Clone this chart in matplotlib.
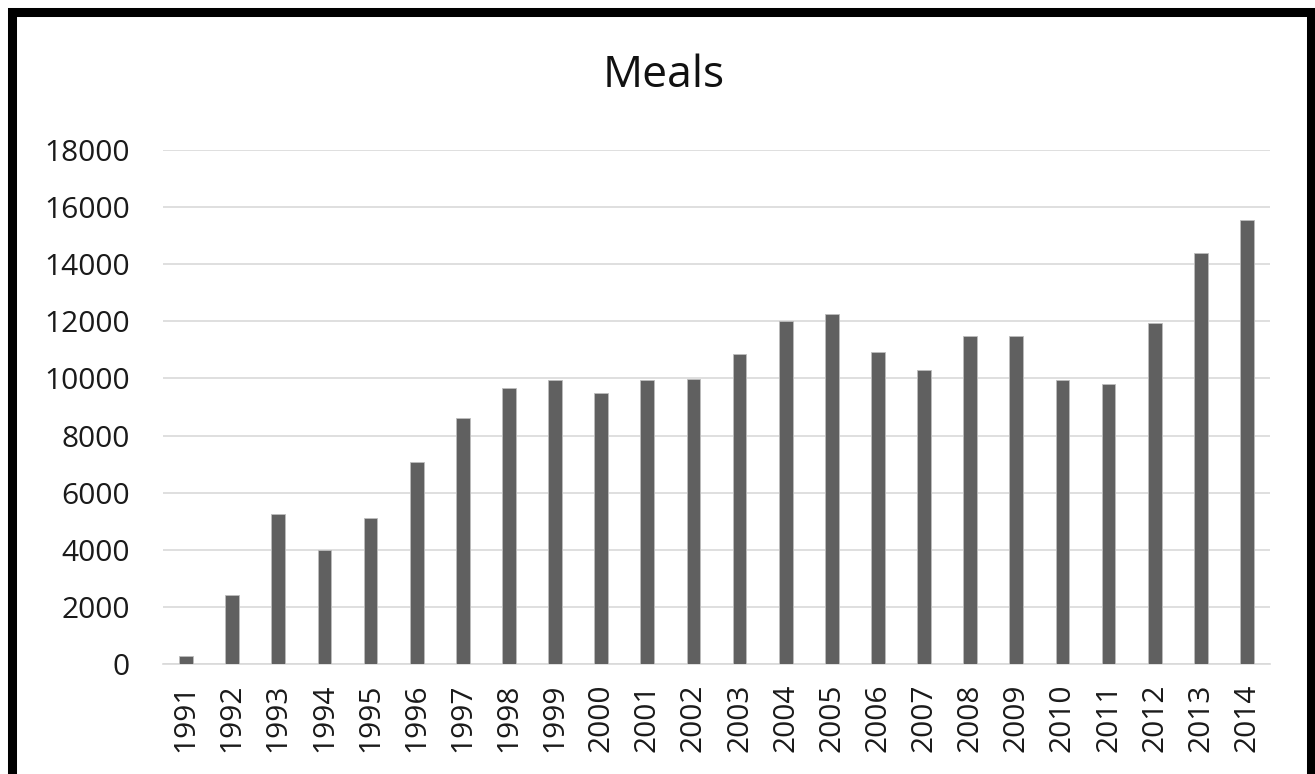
import matplotlib
matplotlib.use("Agg")
import matplotlib.pyplot as plt
from matplotlib.patches import Rectangle

years = [str(y) for y in range(1991, 2015)]
meals = [290, 2420, 5270, 4000, 5120, 7080, 8610, 9670, 9930, 9480,
         9930, 9990, 10870, 12000, 12260, 10930, 10300, 11500, 11500,
         9930, 9800, 11950, 14410, 15540]
yticks = list(range(0, 18001, 2000))
title = "Meals"

plt.rcParams['font.family'] = ['Open Sans', 'DejaVu Sans']

fig = plt.figure(figsize=(13.15, 7.74), dpi=100)
fig.patch.set_facecolor("white")
ax = fig.add_axes([163/1315, 110/774, (1270-163)/1315, (664-150)/774])

x = list(range(len(years)))
ax.bar(x, meals, width=0.3, color="#606060", edgecolor="#bdbdbd", linewidth=0.6, zorder=3)

ax.set_xlim(-0.5, len(years) - 0.5)
ax.set_ylim(0, 18000)
ax.set_yticks(yticks)
ax.set_yticklabels([str(v) for v in yticks], fontsize=21.5, color="#1a1a1a")
ax.set_xticks(x)
ax.set_xticklabels(years, rotation=90, fontsize=21.5, color="#1a1a1a")
ax.tick_params(axis='both', length=0)
ax.tick_params(axis='y', pad=24)
ax.tick_params(axis='x', pad=14)
ax.grid(axis='y', color="#d9d9d9", linewidth=1.2, zorder=0)
for s in ['top', 'right', 'left']:
    ax.spines[s].set_visible(False)
ax.spines['bottom'].set_color("#d9d9d9")
ax.spines['bottom'].set_linewidth(1.2)

fig.text(663.5/1315, 1 - 76/774, title, ha='center', va='center', fontsize=32, color="#111111")

frame = Rectangle((11.5/1315, -20/774), (1311 - 11.5)/1315, (774 - 11.5 + 20)/774,
                  transform=fig.transFigure, fill=False, edgecolor="black",
                  linewidth=6.5, clip_on=False)
fig.patches.append(frame)

fig.savefig("out.png", dpi=100, facecolor="white")
